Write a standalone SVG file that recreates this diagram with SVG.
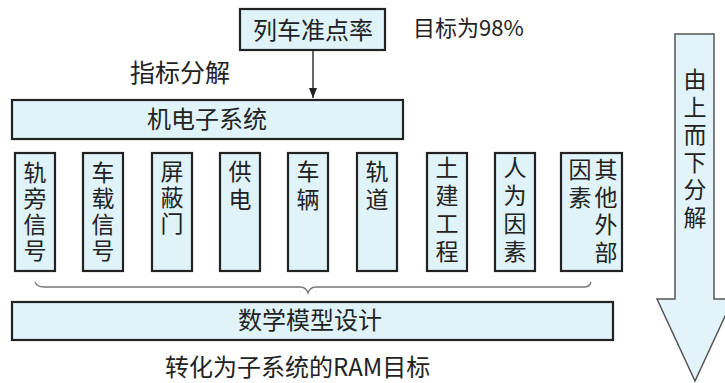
<svg xmlns="http://www.w3.org/2000/svg" width="725" height="383" viewBox="0 0 725 383">
<style>
.box{fill:#dff3f9;stroke:#222;stroke-width:2.2}
.t{font-family:"Noto Sans CJK SC","Liberation Sans",sans-serif;fill:#222;text-anchor:middle}
.h{font-size:24px}
.vt{font-family:"Noto Sans CJK SC","Liberation Sans",sans-serif;fill:#222;font-size:23px;writing-mode:vertical-rl;text-orientation:upright;text-anchor:start}
.lbl{font-family:"Noto Sans CJK SC","Liberation Serif",serif;fill:#222}
</style>
<defs>
<marker id="arr" viewBox="0 0 10 20" refX="10" refY="10" markerWidth="10" markerHeight="20" markerUnits="userSpaceOnUse" orient="auto">
<path d="M0,6 L10,10 L0,14 Z" fill="#222"/>
</marker>
</defs>
<rect width="725" height="383" fill="#fff"/>
<g id="connectors">
<line x1="313" y1="50" x2="313" y2="98" stroke="#333" stroke-width="1.5" marker-end="url(#arr)"/>
<path d="M35,282 Q37,287 44,287 L300,287 Q306,287 308,293 Q310,287 316,287 L584,287 Q590,287 591,282" fill="none" stroke="#777" stroke-width="1.3"/>
</g>
<g id="top">
<rect class="box" x="240" y="9" width="145" height="41"/>
<text class="t h" x="313" y="39">列车准点率</text>
</g>
<text class="lbl" x="413" y="36" font-size="22">目标为98%</text>
<text class="lbl" x="130" y="82" font-size="25">指标分解</text>
<g id="mech">
<rect class="box" x="12" y="100" width="391" height="39"/>
<text class="t h" x="207" y="128">机电子系统</text>
</g>
<g id="b1"><rect class="box" x="15" y="153" width="40" height="118"/>
<text class="vt" x="35" y="161" letter-spacing="3">轨旁信号</text></g>
<g id="b2"><rect class="box" x="83" y="153" width="40" height="118"/>
<text class="vt" x="103" y="161" letter-spacing="3">车载信号</text></g>
<g id="b3"><rect class="box" x="152" y="153" width="40" height="118"/>
<text class="vt" x="172" y="160" letter-spacing="3">屏蔽门</text></g>
<g id="b4"><rect class="box" x="220" y="153" width="40" height="118"/>
<text class="vt" x="240" y="160" letter-spacing="5">供电</text></g>
<g id="b5"><rect class="box" x="288" y="153" width="40" height="118"/>
<text class="vt" x="308" y="160" letter-spacing="5">车辆</text></g>
<g id="b6"><rect class="box" x="357" y="153" width="40" height="118"/>
<text class="vt" x="377" y="160" letter-spacing="5">轨道</text></g>
<g id="b7"><rect class="box" x="427" y="153" width="40" height="118"/>
<text class="vt" x="447" y="156" letter-spacing="5">土建工程</text></g>
<g id="b8"><rect class="box" x="495" y="153" width="40" height="118"/>
<text class="vt" x="515" y="156" letter-spacing="5">人为因素</text></g>
<g id="b9"><rect class="box" x="561" y="153" width="61" height="118"/>
<text class="vt" x="606" y="158" letter-spacing="4.5">其他外部</text>
<text class="vt" x="580" y="158" letter-spacing="5">因素</text></g>
<g id="math">
<rect class="box" x="12" y="302" width="601" height="38"/>
<text class="t h" x="310" y="329">数学模型设计</text>
</g>
<text class="lbl" x="165" y="376" font-size="24">转化为子系统的RAM目标</text>
<g id="bigarrow">
<path d="M675,34 L714,34 L714,299 L733,299 L695,381 L657,299 L675,299 Z" fill="#e2f4fa" stroke="#555" stroke-width="1.5"/>
<text class="vt" font-size="22" x="695" y="68" letter-spacing="4.5">由上而下分解</text>
</g>
</svg>
